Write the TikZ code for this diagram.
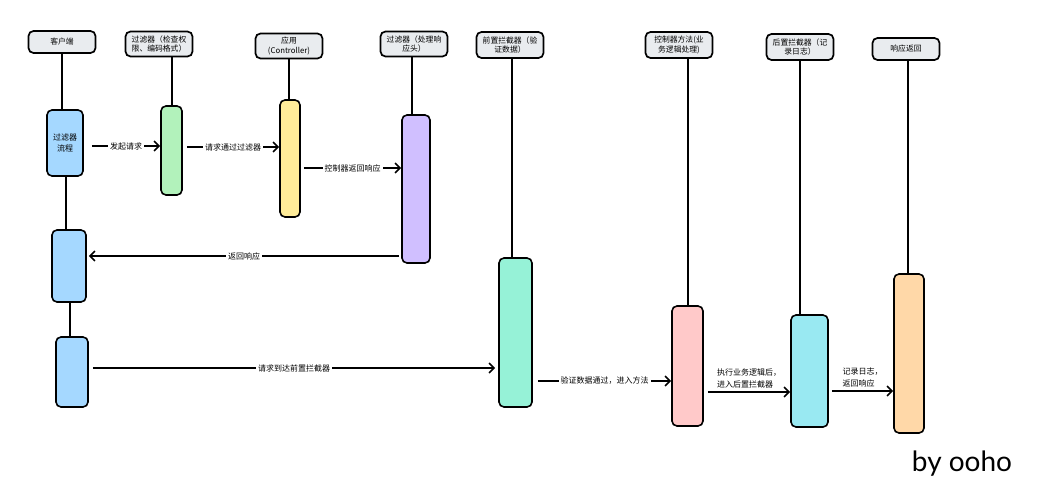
\documentclass[tikz,border=0pt]{standalone}
\usepackage{fontspec}
\setmainfont{Noto Sans CJK SC}
\usetikzlibrary{arrows.meta,calc}
\definecolor{hdrgray}{HTML}{E9ECEF}
\definecolor{cblue}{HTML}{A5D8FF}
\definecolor{cgreen}{HTML}{B2F2BB}
\definecolor{cyellow}{HTML}{FFEC99}
\definecolor{cpurple}{HTML}{D0BFFF}
\definecolor{cteal}{HTML}{96F2D7}
\definecolor{cpink}{HTML}{FFC9C9}
\definecolor{ccyan}{HTML}{99E9F2}
\definecolor{corange}{HTML}{FFD8A8}
\begin{document}
\begin{tikzpicture}[x=1pt,y=-1pt,
  hdr/.style={draw=black,line width=1.7pt,fill=hdrgray,rounded corners=5pt,minimum width=67pt,minimum height=22pt,inner sep=1pt,align=center,font=\fontsize{7.8}{9.5}\selectfont},
  act/.style={draw=black,line width=1.6pt,rounded corners=5pt,inner sep=0pt,align=center,font=\fontsize{8}{10.5}\selectfont},
  life/.style={line width=1.5pt},
  arr/.style={line width=1.6pt,-{Straight Barb[length=5pt,width=10pt,line width=1.6pt]}},
  lbl/.style={fill=white,inner sep=2pt,font=\fontsize{8}{9.5}\selectfont},
  lbla/.style={inner sep=2pt,align=left,font=\fontsize{8}{12.5}\selectfont}]
\useasboundingbox (0,0) rectangle (1042,500);
% headers
\node[hdr] (h1) at (62,42) {客户端};
\node[hdr,minimum height=25pt] (h2) at (159,44) {过滤器（检查权\\限、编码格式）};
\node[hdr,minimum height=25pt] (h3) at (289,46) {应用\\(Controller)};
\node[hdr,minimum height=25pt] (h4) at (414,44) {过滤器（处理响\\应头）};
\node[hdr,minimum height=26pt] (h5) at (510,45) {前置拦截器（验\\证数据）};
\node[hdr,minimum height=26pt] (h6) at (679,45) {控制器方法(业\\务逻辑处理)};
\node[hdr,minimum height=26pt] (h7) at (800,47) {后置拦截器（记\\录日志）};
\node[hdr] (h8) at (906,49) {响应返回};
% activation boxes
\node[act,fill=cblue,minimum width=36pt,minimum height=66pt] (b1) at (65,143) {过滤器\\流程};
\node[act,fill=cgreen,minimum width=21pt,minimum height=89pt] (g) at (171.5,150.5) {};
\node[act,fill=cyellow,minimum width=20pt,minimum height=117pt] (yl) at (290,158.5) {};
\node[act,fill=cpurple,minimum width=28pt,minimum height=148pt] (p) at (416,189) {};
\node[act,fill=cblue,minimum width=34pt,minimum height=72pt] (b2) at (69,266) {};
\node[act,fill=cblue,minimum width=32pt,minimum height=70pt] (b3) at (72,372) {};
\node[act,fill=cteal,minimum width=33pt,minimum height=149pt] (t) at (515.5,332.5) {};
\node[act,fill=cpink,minimum width=31pt,minimum height=120pt] (pk) at (687.5,366) {};
\node[act,fill=ccyan,minimum width=37pt,minimum height=112pt] (c) at (809.5,371) {};
\node[act,fill=corange,minimum width=30pt,minimum height=159pt] (o) at (909,353.5) {};
% lifelines
\draw[life] (h1.south) -- (h1.south |- b1.north);
\draw[life] (b1.south) ++(1,0) -- ($(b2.north)+(-3,0)$);
\draw[life] (b2.south) ++(1,0) -- ($(b3.north)+(-2,0)$);
\draw[life] ([xshift=13pt]h2.south) -- ([xshift=13pt]h2.south |- g.north);
\draw[life] (h3.south) -- (h3.south |- yl.north);
\draw[life] ([xshift=-2pt]h4.south) -- ([xshift=-2pt]h4.south |- p.north);
\draw[life] ([xshift=2pt]h5.south) -- ([xshift=2pt]h5.south |- t.north);
\draw[life] ([xshift=9pt]h6.south) -- ([xshift=9pt]h6.south |- pk.north);
\draw[life] (h7.south) -- (h7.south |- c.north);
\draw[life] ([xshift=2pt]h8.south) -- ([xshift=2pt]h8.south |- o.north);
% messages
\draw[arr] ([xshift=8pt,yshift=-3pt]b1.east) coordinate (s1) -- (s1 -| g.west) node[midway,lbl] {发起请求};
\draw[arr] ([xshift=4pt,yshift=3.5pt]g.east) coordinate (s2) -- (s2 -| yl.west) node[midway,lbl] {请求通过过滤器};
\draw[arr] ([xshift=3pt,yshift=-9.5pt]yl.east) coordinate (s3) -- (s3 -| p.west) node[midway,lbl] {控制器返回响应};
\draw[arr] ([xshift=-2pt,yshift=-67pt]p.west) coordinate (s4) -- ([xshift=2pt]s4 -| b2.east) node[midway,lbl] {返回响应};
\draw[arr] ([xshift=4pt,yshift=4pt]b3.east) coordinate (s5) -- ([xshift=-3pt]s5 -| t.west) node[midway,lbl] {请求到达前置拦截器};
\draw[arr] ([xshift=5pt,yshift=-48.5pt]t.east) coordinate (s6) -- (s6 -| pk.west) node[midway,lbl] {验证数据通过，进入方法};
\draw[arr] ([xshift=4pt,yshift=-26pt]pk.east) coordinate (s7) -- (s7 -| c.west) node[midway,above=1pt,lbla] {执行业务逻辑后，\\进入后置拦截器};
\draw[arr] ([xshift=3pt,yshift=-20pt]c.east) coordinate (s8) -- (s8 -| o.west) node[midway,above=1pt,lbla] {记录日志，\\返回响应};
% signature
\node[font=\fontsize{28}{30}\selectfont\fontspec{Lato}] (sig) at (962,464) {by ooho};
\end{tikzpicture}
\end{document}
